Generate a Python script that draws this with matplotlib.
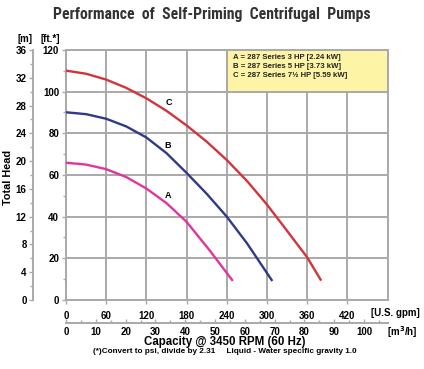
import numpy as np
import matplotlib
matplotlib.use('Agg')
import matplotlib.pyplot as plt
from matplotlib.patches import Rectangle
from matplotlib import font_manager

plt.rcParams['font.family'] = ['Liberation Sans', 'DejaVu Sans']
plt.rcParams['font.weight'] = 'bold'

# curve data: capacity [U.S. gpm] vs total head [ft]
gpm_a = [0, 30, 60, 90, 120, 150, 180, 214, 248]
head_a = [65.9, 65.0, 62.8, 59.0, 53.5, 46.5, 37.5, 24, 9.6]
gpm_b = [0, 30, 60, 90, 120, 150, 180, 210, 240, 270, 307]
head_b = [90.1, 89.2, 87.0, 83.3, 78, 70.5, 61, 51, 40, 27.3, 9.6]
gpm_c = [0, 30, 60, 90, 120, 150, 180, 210, 240, 270, 300, 330, 360, 380]
head_c = [110.1, 108.6, 105.8, 101.8, 96.8, 90.8, 83.8, 76.0, 67.2, 57.2, 45.8, 33.2, 20.5, 9.8]

gpm_ticks = [0, 60, 120, 180, 240, 300, 360, 420]
ft_ticks = [0, 20, 40, 60, 80, 100, 120]
m_ticks = [0, 4, 8, 12, 16, 20, 24, 28, 32, 36]
m3h_ticks = [0, 10, 20, 30, 40, 50, 60, 70, 80, 90, 100]
legend_lines = ['A = 287 Series 3 HP [2.24 kW]',
                'B = 287 Series 5 HP [3.73 kW]',
                'C = 287 Series 7\u00bd HP [5.59 kW]']

GPM_PER_M3H = 4.45
M_PER_FT = 36 / 120

grid_col = '#a9a9a9'
fig = plt.figure(figsize=(4.24, 3.69), dpi=100)
ax = fig.add_axes([0.1557, 0.187, 0.7583, 0.6775])
ax.set_xlim(0, 480)
ax.set_ylim(0, 120)

# grid
for g in range(0, 481, 60):
    ax.axvline(g, color=grid_col, lw=1.4, zorder=1)
for g in ft_ticks:
    ax.axhline(g, color=grid_col, lw=1.4, zorder=1)
for s in ax.spines.values():
    s.set_color(grid_col)
    s.set_linewidth(1.4)

# legend box
ax.add_patch(Rectangle((240, 100), 240, 20, facecolor='#fdf4a6',
                       edgecolor=grid_col, lw=1.4, zorder=2))
for i, t in enumerate(legend_lines):
    ax.text(249, 116.5 - i * 4.3, t, fontsize=5.6, va='center', ha='left',
            color='#222222', zorder=3)

# curves
ax.plot(gpm_a, head_a, color='#e0359e', lw=1.7, zorder=4, solid_joinstyle='round')
ax.plot(gpm_b, head_b, color='#2e3a87', lw=1.7, zorder=4, solid_joinstyle='round')
ax.plot(gpm_c, head_c, color='#d2343a', lw=1.7, zorder=4, solid_joinstyle='round')
ax.text(152, 50, 'A', fontsize=6.5, ha='center', va='center', zorder=5)
ax.text(152, 74.3, 'B', fontsize=6.5, ha='center', va='center', zorder=5)
ax.text(153, 95, 'C', fontsize=6.5, ha='center', va='center', zorder=5)

# primary ticks
ax.set_xticks(gpm_ticks)
ax.set_yticks(ft_ticks)
ax.set_yticks(range(10, 120, 20), minor=True)
ax.tick_params(axis='both', labelsize=7, color=grid_col, length=3, width=1, pad=2)
ax.tick_params(axis='y', which='minor', color=grid_col, length=2, width=1)
ax.tick_params(axis='x', pad=5)
ax.text(1.025, -0.052, '[U.S. gpm]', transform=ax.transAxes, fontsize=7,
        ha='center', va='center')

# metres axis
sec_m = ax.secondary_yaxis(-0.103, functions=(lambda f: f * M_PER_FT, lambda m: m / M_PER_FT))
sec_m.set_yticks(m_ticks)
sec_m.set_yticks(range(2, 36, 4), minor=True)
sec_m.spines['left'].set_color(grid_col)
sec_m.spines['left'].set_linewidth(1.4)
sec_m.tick_params(labelsize=7, color=grid_col, length=3, width=1, pad=1.5)
sec_m.tick_params(which='minor', color=grid_col, length=2, width=1)

# cubic metres per hour axis
sec_q = ax.secondary_xaxis(-0.092, functions=(lambda g: g / GPM_PER_M3H, lambda q: q * GPM_PER_M3H))
sec_q.set_xticks(m3h_ticks)
sec_q.set_xticks(range(5, 110, 10), minor=True)
sec_q.spines['bottom'].set_color(grid_col)
sec_q.spines['bottom'].set_linewidth(1.4)
sec_q.tick_params(labelsize=7, color=grid_col, length=3, width=1, pad=3, direction='in')
sec_q.tick_params(which='minor', color=grid_col, length=2, width=1, direction='in')
ax.text(1.045, -0.13, '[m$^3$/h]', transform=ax.transAxes, fontsize=7,
        ha='center', va='center')

# labels
fig.text(0.02, 0.52, 'Total Head', rotation=90, fontsize=7.8, ha='center', va='center')
fig.text(0.058, 0.893, '[m]', fontsize=7, ha='center', va='center')
fig.text(0.118, 0.893, '[ft.*]', fontsize=7, ha='center', va='center')
fig.text(0.53, 0.074, 'Capacity @ 3450 RPM (60 Hz)', fontsize=8.3, ha='center', va='center')
fig.text(0.53, 0.047, '(*)Convert to psi, divide by 2.31     Liquid - Water specific gravity 1.0',
         fontsize=5.9, ha='center', va='center')

# title: prefer a condensed face, then fit to the reference width
title_font = None
for fam, stretch in [('Liberation Sans Narrow', 'normal'), ('Roboto Condensed', 'normal'),
                     ('DejaVu Sans', 'condensed')]:
    fp = font_manager.FontProperties(family=fam, stretch=stretch, weight='bold')
    try:
        path = font_manager.findfont(fp, fallback_to_default=False)
    except ValueError:
        continue
    if 'Narrow' in path or 'Condensed' in path:
        title_font = fp
        break
if title_font is None:
    title_font = font_manager.FontProperties(family='Liberation Sans', weight='bold')
title = fig.text(0.5, 0.962, 'Performance  of  Self-Priming  Centrifugal  Pumps',
                 fontproperties=title_font, fontsize=13, ha='center', va='center',
                 color='#333333')
fig.canvas.draw()
w = title.get_window_extent().width
title.set_fontsize(13 * min(1.0, 317 / w))

fig.savefig('out.png', dpi=100)
